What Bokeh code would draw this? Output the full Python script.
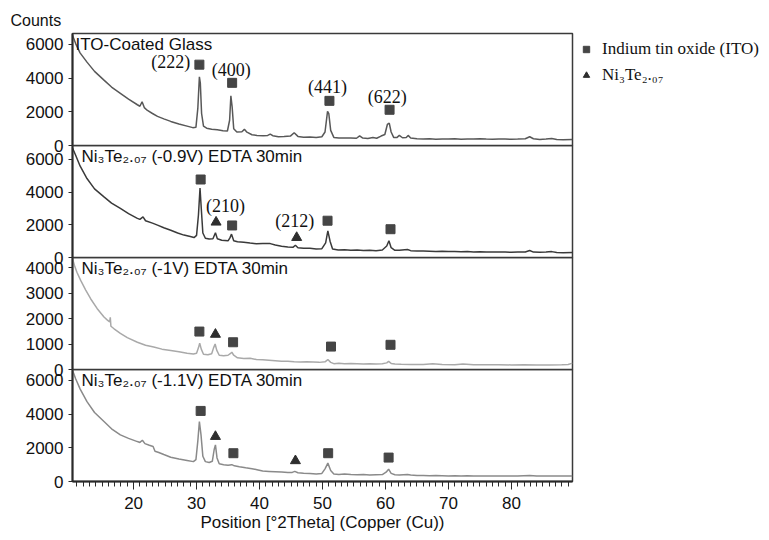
from bokeh.plotting import figure
from bokeh.models import Range1d, FixedTicker, Label, Legend, LegendItem, Title
from bokeh.layouts import column
from bokeh.embed import file_html
from bokeh.resources import INLINE
from bokeh.core.properties import value

# ---------------- data ----------------
# Panel 1: ITO-coated glass
x1 = [10.3, 10.8, 11.5, 12.6, 13.8, 15.3, 16.5, 17.9, 19.2, 20.6, 21.0, 21.35, 21.7, 22.2, 23.0,
      23.8, 24.8, 25.9, 27.2, 28.5, 29.4, 29.9, 30.2, 30.45, 30.6, 30.8, 31.1, 31.6, 32.4, 33.3,
      34.2, 34.9, 35.25, 35.45, 35.65, 35.9, 36.4, 37.2, 37.6, 38.0, 38.8, 39.6, 40.6, 41.3, 41.7,
      42.1, 43.0, 43.9, 44.9, 45.5, 46.1, 47.0, 48.0, 49.0, 49.9, 50.4, 50.8, 51.0, 51.3, 51.8,
      52.6, 53.5, 54.5, 55.4, 55.9, 56.4, 57.2, 58.0, 58.6, 59.3, 59.9, 60.3, 60.6, 60.9, 61.3,
      61.8, 62.2, 62.7, 63.3, 63.6, 64.0, 65, 66, 67, 68, 69, 70, 71, 72, 73, 74, 75, 76, 77, 78,
      79, 80, 81, 82.2, 82.9, 83.5, 84.5, 85.5, 86.4, 87.2, 88.2, 89.7]
y1 = [6550, 6050, 5500, 4950, 4400, 3880, 3470, 3100, 2750, 2420, 2330, 2600, 2250, 2080, 1900,
      1730, 1580, 1430, 1280, 1150, 1060, 1080, 2200, 4080, 3700, 1900, 1150, 1030, 970, 930,
      880, 860, 1500, 2950, 2300, 1000, 800, 820, 960, 790, 640, 600, 580, 600, 680,
      580, 520, 530, 560, 760, 540, 490, 500, 470, 520, 800, 2030, 1900, 900, 480,
      450, 440, 450, 430, 570, 440, 420, 470, 430, 560, 650, 1250, 1330, 800, 480,
      470, 600, 460, 480, 600, 450, 400, 380, 400, 370, 390, 380, 400, 370, 390, 380, 400, 380, 370, 390,
      380, 370, 380, 400, 520, 400, 360, 380, 420, 360, 340, 350]

# Panel 2: Ni3Te2.07 (-0.9V)
x2 = [10.3, 10.8, 11.5, 12.6, 13.8, 15.3, 16.5, 17.9, 19.2, 20.6, 21.0, 21.5, 21.9, 23.0, 23.8,
      24.8, 25.9, 27.0, 28.0, 29.0, 29.6, 30.0, 30.3, 30.55, 30.75, 31.0, 31.4, 32.0, 32.6, 33.0,
      33.3, 34.0, 35.0, 35.3, 35.55, 35.9, 36.5, 37.5, 38.5, 39.5, 40.5, 41.7, 42.5, 43.5, 44.5,
      45.3, 45.7, 46.1, 47.0, 48.0, 49.0, 49.9, 50.5, 50.85, 51.2, 51.6, 52.5, 53.5, 54.5, 55.5,
      56.5, 57.5, 58.5, 59.5, 60.2, 60.55, 60.9, 61.5, 62.2, 63.5, 64.0, 65, 66, 67, 68, 69, 70,
      71, 72, 73, 74, 75, 76, 77, 78, 79, 80, 81, 82.2, 82.9, 83.5, 84.5, 85.5, 86.4, 87.2, 88.2, 89.7]
y2 = [6700, 6250, 5600, 4830, 4200, 3710, 3330, 3000, 2680, 2390, 2330, 2480, 2250, 2100, 1980,
      1820, 1670, 1500, 1370, 1280, 1220, 1350, 2600, 4250, 3000, 1500, 1180, 1130, 1150, 1510,
      1150, 1060, 1020, 1200, 1430, 1030, 960, 930, 880, 840, 850, 850, 760, 690, 640,
      620, 750, 600, 570, 560, 520, 540, 900, 1630, 1000, 520, 460, 470, 440, 460,
      430, 450, 420, 460, 700, 1020, 600, 440, 450, 490, 420, 400, 390, 380, 370, 380, 360,
      370, 350, 360, 340, 350, 340, 330, 340, 330, 320, 330, 340, 430, 330, 320, 330, 360, 300, 290, 300]

# Panel 3: Ni3Te2.07 (-1V)
x3 = [10.3, 10.6, 11.0, 11.6, 12.4, 13.2, 14.2, 15.3, 15.8, 16.2, 16.3, 16.4, 16.9, 17.9, 19.0,
      20.6, 21.9, 23.2, 24.5, 25.9, 27.2, 28.5, 29.5, 30.0, 30.3, 30.5, 30.75, 31.1, 31.8, 32.4,
      32.7, 32.95, 33.2, 33.6, 34.3, 35.0, 35.35, 35.6, 35.9, 36.5, 37.5, 38.5, 39.5, 40.5, 41.5,
      42.5, 43.5, 44.5, 45.5, 46.5, 47.5, 48.5, 49.5, 50.4, 50.85, 51.3, 51.8, 52.6, 53.5, 54.5,
      55.5, 56.5, 57.5, 58.5, 59.5, 60.2, 60.5, 60.9, 61.5, 62.5, 64, 66, 67.5, 69, 71, 72.3, 74,
      76, 78, 80, 82, 84, 86, 88, 89, 89.7]
y3 = [4350, 4100, 3820, 3500, 3120, 2770, 2400, 2060, 1950, 1870, 2050, 1700, 1600, 1420, 1250,
      1070, 950, 880, 800, 750, 700, 640, 610, 640, 850, 1030, 800, 600, 580, 620,
      850, 1000, 760, 560, 540, 560, 620, 680, 560, 460, 430, 440, 390, 380, 360,
      340, 320, 320, 300, 290, 300, 290, 280, 300, 390, 280, 230, 250, 230, 240,
      230, 220, 230, 220, 230, 260, 320, 240, 220, 210, 200, 200, 230, 200, 190, 220, 190,
      185, 190, 180, 185, 180, 180, 190, 200, 250]

# Panel 4: Ni3Te2.07 (-1.1V)
x4 = [10.3, 10.8, 11.5, 12.6, 13.8, 15.3, 16.5, 17.9, 19.2, 20.6, 21.0, 21.4, 21.8, 22.5, 23.1,
      23.4, 24.0, 24.8, 25.9, 27.2, 28.5, 29.5, 29.9, 30.2, 30.45, 30.7, 31.0, 31.4, 32.0, 32.5,
      32.8, 33.0, 33.25, 33.6, 34.3, 35.0, 35.6, 36.0, 36.8, 37.8, 38.8, 39.6, 40.5, 41.5, 42.5,
      43.5, 44.5, 45.2, 45.6, 46.1, 47.0, 48.0, 49.0, 49.9, 50.4, 50.85, 51.3, 51.8, 52.6, 53.5,
      54.5, 55.5, 56.5, 57.5, 58.5, 59.5, 60.1, 60.5, 60.9, 61.5, 62.2, 63.5, 64.0, 65, 66, 67,
      68, 69, 70, 71, 72, 73, 74, 75, 76, 77, 78, 79, 80, 81, 82.9, 84, 86, 88, 89.7]
y4 = [6600, 6100, 5500, 4740, 4100, 3560, 3130, 2770, 2560, 2370, 2320, 2450, 2250, 2150, 2080,
      1800, 1720, 1600, 1440, 1330, 1250, 1180, 1300, 2400, 3560, 2800, 1500, 1180, 1130, 1200,
      1900, 2170, 1400, 1050, 1000, 970, 1000, 930, 870, 810, 760, 700, 620, 600, 580,
      560, 530, 540, 600, 520, 490, 470, 450, 480, 750, 1090, 650, 440, 420, 440,
      410, 400, 410, 390, 400, 410, 550, 730, 480, 400, 390, 420, 390, 360, 350, 340,
      350, 340, 330, 340, 330, 340, 330, 320, 330, 330, 320, 330, 320, 320, 360, 320, 330, 320, 330]

# ITO (square) and Ni3Te2.07 (triangle) reflection markers per panel
sq1_x = [30.45, 35.65, 51.1, 60.65]
sq1_y = [4800, 3720, 2650, 2120]
sq2_x = [30.65, 35.65, 50.8, 60.8]
sq2_y = [4770, 1960, 2250, 1730]
tr2_x = [33.1, 45.9]
tr2_y = [2160, 1220]
sq3_x = [30.45, 35.8, 51.35, 60.8]
sq3_y = [1490, 1070, 900, 970]
tr3_x = [33.0]
tr3_y = [1380]
sq4_x = [30.65, 35.85, 50.9, 60.5]
sq4_y = [4190, 1680, 1680, 1420]
tr4_x = [33.0, 45.7]
tr4_y = [2670, 1230]

# hkl annotations
hkl1_text = ["(222)", "(400)", "(441)", "(622)"]
hkl1_x = [25.9, 35.5, 50.8, 60.3]
hkl1_y = [4940, 4510, 3450, 2900]
hkl2_text = ["(210)", "(212)"]
hkl2_x = [34.6, 45.6]
hkl2_y = [3160, 2245]

panel_titles = ["ITO-Coated Glass",
                "Ni\u2083Te\u2082.\u2080\u2087 (-0.9V) EDTA 30min",
                "Ni\u2083Te\u2082.\u2080\u2087 (-1V) EDTA 30min",
                "Ni\u2083Te\u2082.\u2080\u2087 (-1.1V) EDTA 30min"]
y_max = [6650, 6850, 4400, 6650]
y_ticks = [[0, 2000, 4000, 6000], [0, 2000, 4000, 6000], [0, 1000, 2000, 3000, 4000],
           [0, 2000, 4000, 6000]]
x_ticks = [20, 30, 40, 50, 60, 70, 80]
x_minor = list(range(11, 90))
line_colors = ["#585858", "#3a3a3a", "#a9a9a9", "#8a8a8a"]
legend_labels = ["Indium tin oxide (ITO)", "Ni\u2083Te\u2082.\u2080\u2087"]

SANS = "Liberation Sans"
SERIF = "Liberation Serif"
SQ_COLOR = "#454545"
TR_COLOR = "#2e2e2e"

x_range = Range1d(10.3, 89.7)


def make_panel(i, top_border, bottom_border, show_x, title_dx):
    kw = dict(x_range=x_range, y_range=Range1d(0, y_max[i]), frame_width=500, frame_height=112,
              min_border_left=72, min_border_right=10, min_border_top=top_border,
              min_border_bottom=bottom_border, output_backend="svg", toolbar_location=None,
              title=None)
    if not show_x:
        kw["x_axis_location"] = None
    p = figure(**kw)
    p.grid.visible = False
    p.background_fill_color = None
    p.border_fill_color = None
    p.outline_line_color = "#3a3a3a"
    p.outline_line_width = 1.5

    ya = p.yaxis[0]
    ya.ticker = FixedTicker(ticks=y_ticks[i], minor_ticks=[])
    ya.major_tick_in = 0
    ya.major_tick_out = 4
    ya.minor_tick_in = 0
    ya.minor_tick_out = 0
    ya.axis_line_color = "#2a2a2a"
    ya.axis_line_width = 2
    ya.major_tick_line_color = "#2a2a2a"
    ya.major_label_text_font = SANS
    ya.major_label_text_font_size = "17px"
    ya.major_label_text_color = "#111111"
    ya.major_label_standoff = 5

    if show_x:
        xa = p.xaxis[0]
        xa.ticker = FixedTicker(ticks=x_ticks, minor_ticks=x_minor)
        xa.major_tick_in = 0
        xa.major_tick_out = 8
        xa.minor_tick_in = 0
        xa.minor_tick_out = 5
        xa.axis_line_color = "#2a2a2a"
        xa.axis_line_width = 2
        xa.major_tick_line_color = "#2a2a2a"
        xa.minor_tick_line_color = "#2a2a2a"
        xa.major_label_text_font = SANS
        xa.major_label_text_font_size = "17px"
        xa.major_label_text_color = "#111111"
        xa.major_label_standoff = 7
        xa.axis_label = "Position [\u00b02Theta] (Copper (Cu))"
        xa.axis_label_text_font = SANS
        xa.axis_label_text_font_size = "17px"
        xa.axis_label_text_font_style = "normal"
        xa.axis_label_text_color = "#111111"
        xa.axis_label_standoff = 1

    p.add_layout(Label(x=title_dx, y=101, x_units="screen", y_units="screen",
                       text=panel_titles[i], text_font=SANS, text_font_size="17px",
                       text_baseline="middle", text_color="#111111"))
    return p


p1 = make_panel(0, 33, 10, False, 3)
p2 = make_panel(1, 0, 10, False, 9)
p3 = make_panel(2, 0, 10, False, 9)
p4 = make_panel(3, 0, 40, True, 9)
p2.margin = (-10, 0, 0, 0)
p3.margin = (-10, 0, 0, 0)
p4.margin = (-10, 0, 0, 0)

p1.add_layout(Title(text="Counts", align="left", offset=-62, text_font=SANS,
                    text_font_size="16px", text_font_style="normal", text_color="#111111",
                    standoff=10), "above")

p1.line(x1, y1, line_color=line_colors[0], line_width=1.5)
p2.line(x2, y2, line_color=line_colors[1], line_width=1.5)
p3.line(x3, y3, line_color=line_colors[2], line_width=1.5)
p4.line(x4, y4, line_color=line_colors[3], line_width=1.5)

sq_r = p1.scatter(sq1_x, sq1_y, marker="square", size=9, color=SQ_COLOR)
# legend-only triangle renderer (no visible point in panel 1)
tr_legend = p1.scatter(x=[float("nan")], y=[float("nan")], marker="triangle", size=10,
                       color=TR_COLOR)
p2.scatter(sq2_x, sq2_y, marker="square", size=9, color=SQ_COLOR)
p2.scatter(tr2_x, tr2_y, marker="triangle", size=10, color=TR_COLOR)
p3.scatter(sq3_x, sq3_y, marker="square", size=9, color=SQ_COLOR)
p3.scatter(tr3_x, tr3_y, marker="triangle", size=10, color=TR_COLOR)
p4.scatter(sq4_x, sq4_y, marker="square", size=9, color=SQ_COLOR)
p4.scatter(tr4_x, tr4_y, marker="triangle", size=10, color=TR_COLOR)

p1.text(x=hkl1_x, y=hkl1_y, text=hkl1_text, text_font=value(SERIF), text_font_size="18px",
        text_align="center", text_baseline="middle", text_color="#111111")
p2.text(x=hkl2_x, y=hkl2_y, text=hkl2_text, text_font=value(SERIF), text_font_size="18px",
        text_align="center", text_baseline="middle", text_color="#111111")

legend = Legend(items=[LegendItem(label=legend_labels[0], renderers=[sq_r]),
                       LegendItem(label=legend_labels[1], renderers=[tr_legend])],
                location="top_left", border_line_color=None, background_fill_color=None,
                label_text_font=SERIF, label_text_font_size="17px", glyph_width=16,
                glyph_height=16, label_height=16, spacing=6, padding=0, margin=6,
                label_standoff=8, label_text_color="#111111")
p1.add_layout(legend, "right")

layout = column(p1, p2, p3, p4, spacing=0)

open("out.html", "w").write(file_html(layout, INLINE))
